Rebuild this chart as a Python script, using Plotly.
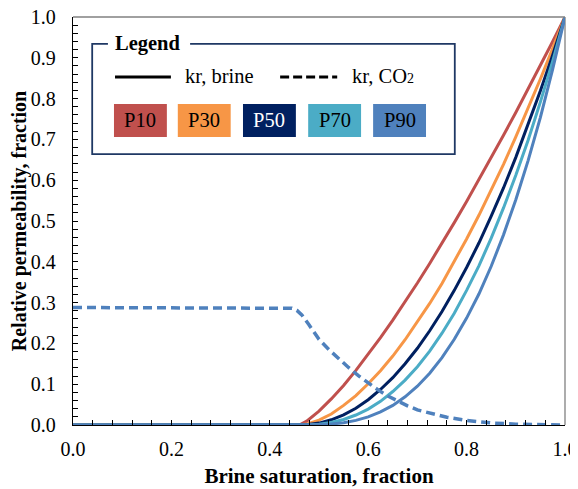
import plotly.graph_objects as go

# ---- data ----
sw_grid = [0.0, 0.46, 0.475, 0.50, 0.525, 0.55, 0.575, 0.60, 0.625, 0.65, 0.675, 0.70, 0.725,
           0.75, 0.775, 0.80, 0.825, 0.85, 0.875, 0.90, 0.925, 0.95, 0.975, 1.0]
kr_p10 = [0.0, 0.0, 0.0095, 0.034, 0.064, 0.097, 0.134, 0.173, 0.214, 0.257, 0.302, 0.348, 0.396,
          0.445, 0.496, 0.548, 0.601, 0.655, 0.710, 0.766, 0.823, 0.881, 0.940, 1.0]
kr_p30 = [0.0, 0.0, 0.0023, 0.012, 0.027, 0.048, 0.072, 0.101, 0.133, 0.169, 0.209, 0.252, 0.298,
          0.347, 0.400, 0.456, 0.514, 0.575, 0.639, 0.706, 0.776, 0.848, 0.923, 1.0]
kr_p50 = [0.0, 0.0, 0.0006, 0.0047, 0.0128, 0.025, 0.041, 0.062, 0.087, 0.116, 0.150, 0.188, 0.231,
          0.278, 0.330, 0.386, 0.446, 0.512, 0.581, 0.656, 0.735, 0.819, 0.907, 1.0]
kr_p70 = [0.0, 0.0, 0.0002, 0.0019, 0.0062, 0.0136, 0.0245, 0.039, 0.058, 0.082, 0.110, 0.143, 0.181,
          0.225, 0.274, 0.330, 0.390, 0.458, 0.532, 0.612, 0.698, 0.792, 0.892, 1.0]
kr_p90 = [0.0, 0.0, 0.0, 0.0005, 0.0022, 0.0055, 0.0113, 0.020, 0.032, 0.048, 0.069, 0.095, 0.127,
          0.165, 0.210, 0.262, 0.321, 0.389, 0.466, 0.552, 0.648, 0.754, 0.872, 1.0]

sw_co2 = [0.0, 0.43, 0.445, 0.455, 0.465, 0.48, 0.50, 0.52, 0.54, 0.56, 0.58, 0.60, 0.62, 0.64,
          0.66, 0.68, 0.70, 0.73, 0.76, 0.80, 0.85, 0.90, 0.95, 1.0]
kr_co2 = [0.288, 0.288, 0.286, 0.281, 0.270, 0.245, 0.210, 0.185, 0.162, 0.141, 0.121, 0.103, 0.086,
          0.071, 0.058, 0.047, 0.037, 0.027, 0.019, 0.011, 0.005, 0.002, 0.001, 0.0]

series_names = ["P10", "P30", "P50", "P70", "P90"]
series_vals = [kr_p10, kr_p30, kr_p50, kr_p70, kr_p90]
colors = ["#C0504D", "#F79646", "#002060", "#4BACC6", "#4F81BD"]
text_colors = ["black", "black", "white", "black", "black"]

x_title = "Brine saturation, fraction"
y_title = "Relative permeability, fraction"

FONT = "Times New Roman, Liberation Serif, DejaVu Serif, serif"

fig = go.Figure()
for name, vals, c in zip(series_names, series_vals, colors):
    fig.add_trace(go.Scatter(x=sw_grid, y=vals, mode="lines", name=name,
                             line=dict(color=c, width=3),
                             showlegend=False))
fig.add_trace(go.Scatter(x=sw_co2, y=kr_co2, mode="lines", name="kr, CO2",
                         line=dict(color="#4F81BD", width=3.5, dash="9px,5px"),
                         showlegend=False))

shapes = []
annotations = []
# plot frame (grey top/right)
shapes.append(dict(type="line", xref="paper", yref="paper", x0=0, x1=1, y0=1, y1=1,
                   line=dict(color="#808080", width=1.3), layer="above"))
shapes.append(dict(type="line", xref="paper", yref="paper", x0=1, x1=1, y0=0, y1=1,
                   line=dict(color="#808080", width=1.3), layer="below"))

# custom legend
bx0, bx1, by0, by1 = 0.039, 0.776, 0.664, 0.934
shapes.append(dict(type="rect", x0=bx0, x1=bx1, y0=by0, y1=by1,
                   line=dict(color="#1F3864", width=1.8), fillcolor="white"))
shapes.append(dict(type="rect", x0=0.071, x1=0.238, y0=by1 - 0.01, y1=by1 + 0.01,
                   line=dict(width=0), fillcolor="white"))
annotations.append(dict(x=0.152, y=0.936, text="<b>Legend</b>", showarrow=False,
                        font=dict(family=FONT, size=20.5, color="black"),
                        xanchor="center", yanchor="middle"))
shapes.append(dict(type="line", x0=0.0854, x1=0.199, y0=0.853, y1=0.853,
                   line=dict(color="black", width=3)))
annotations.append(dict(x=0.2236, y=0.855, text="kr, brine", showarrow=False,
                        font=dict(family=FONT, size=20.5, color="black"),
                        xanchor="left", yanchor="middle"))
shapes.append(dict(type="line", x0=0.421, x1=0.537, y0=0.853, y1=0.853,
                   line=dict(color="black", width=3, dash="9px,4px")))
annotations.append(dict(x=0.563, y=0.855, text="kr, CO<span style='font-size:14px'>2</span>",
                        showarrow=False,
                        font=dict(family=FONT, size=20.5, color="black"),
                        xanchor="left", yanchor="middle"))

box_x0 = [0.0833, 0.213, 0.3455, 0.478, 0.610]
box_w = 0.1075
for name, c, tc, x0 in zip(series_names, colors, text_colors, box_x0):
    shapes.append(dict(type="rect", x0=x0, x1=x0 + box_w, y0=0.706, y1=0.787,
                       line=dict(width=0), fillcolor=c))
    annotations.append(dict(x=x0 + box_w / 2, y=0.7465, text=name, showarrow=False,
                            font=dict(family=FONT, size=20.5, color=tc),
                            xanchor="center", yanchor="middle"))

fig.update_layout(
    width=570, height=481,
    margin=dict(l=65, r=13, t=9, b=64, autoexpand=False),
    paper_bgcolor="white", plot_bgcolor="white",
    font=dict(family=FONT, size=20, color="black"),
    shapes=shapes, annotations=annotations,
    showlegend=False,
)
fig.update_xaxes(range=[0, 1], dtick=0.2, tick0=0, tickformat=".1f", automargin=False,
                 showgrid=False, zeroline=False, ticklabeloverflow="allow",
                 showline=True, linecolor="black", linewidth=1.3,
                 ticks="inside", ticklen=5, tickcolor="black",
                 minor=dict(dtick=0.04, ticks="inside", ticklen=5, tickcolor="black", showgrid=False),
                 ticklabelstandoff=6, tickfont=dict(family=FONT, size=20),
                 title=dict(text="<b>" + x_title + "</b>", font=dict(family=FONT, size=21), standoff=9))
fig.update_yaxes(range=[0, 1], dtick=0.1, tick0=0, tickformat=".1f", automargin=False,
                 showgrid=False, zeroline=False, ticklabeloverflow="allow",
                 showline=True, linecolor="black", linewidth=1.3,
                 ticks="inside", ticklen=5, tickcolor="black",
                 minor=dict(dtick=0.02, ticks="inside", ticklen=5, tickcolor="black", showgrid=False),
                 ticklabelstandoff=12, tickfont=dict(family=FONT, size=20),
                 title=dict(text="<b>" + y_title + "</b>", font=dict(family=FONT, size=20), standoff=2))

fig.write_html("out.html")
